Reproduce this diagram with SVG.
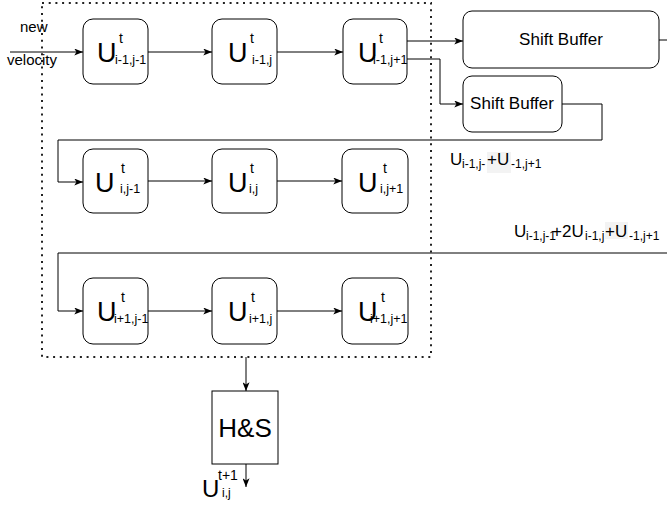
<svg xmlns="http://www.w3.org/2000/svg" width="667" height="508" viewBox="0 0 667 508">
<style>
text{font-family:"Liberation Sans",Arial,Helvetica,sans-serif;fill:#000}
.box{fill:#fff;stroke:#000;stroke-width:1}
.ln{fill:none;stroke:#000;stroke-width:1}
.arr{marker-end:url(#ah)}
.U{font-size:27px}
.t{font-size:14px}
.s{font-size:12.5px}
.lbU{font-size:17px}
.lbs{font-size:12px}
.sb{font-size:17px}
.hl{fill:#f3f3f3}
</style>
<defs>
<marker id="ah" viewBox="0 0 10 8" refX="10" refY="4" markerWidth="9" markerHeight="7" markerUnits="userSpaceOnUse" orient="auto">
<path d="M0,0 L10,4 L0,8 L2.5,4 z" fill="#000"/>
</marker>
</defs>
<rect id="region" x="42" y="3" width="389" height="354" fill="none" stroke="#222" stroke-width="2" stroke-dasharray="2 4.7"/>
<g id="connectors">
<path class="ln arr" d="M10,52 H83"/>
<path class="ln arr" d="M148,52 H212"/>
<path class="ln arr" d="M277,52 H343"/>
<path class="ln arr" d="M407,41 H463"/>
<path class="ln arr" d="M407,59 H440 V104 H463"/>
<path class="ln" d="M659,40 H667"/>
<path class="ln arr" d="M562,104 H602 V140 H58 V182 H83"/>
<path class="ln arr" d="M148,181 H212"/>
<path class="ln arr" d="M277,181 H342"/>
<path class="ln arr" d="M667,253 H58 V311 H83"/>
<path class="ln arr" d="M148,311 H212"/>
<path class="ln arr" d="M277,311 H342"/>
<path class="ln arr" d="M246,357 V391"/>
<path class="ln arr" d="M246,464 V487"/>
</g>
<g id="input-label">
<text x="20" y="32" font-size="15">new</text>
<text x="7" y="65" font-size="15">velocity</text>
</g>
<g id="u-im1-jm1">
<rect class="box" x="83" y="19" width="65" height="65" rx="10"/>
<text class="U" x="97" y="62">U</text><text class="t" x="119" y="43">t</text><text class="s" x="115" y="64">i-1,j-1</text>
</g>
<g id="u-im1-j">
<rect class="box" x="212" y="19" width="65" height="65" rx="10"/>
<text class="U" x="228" y="62">U</text><text class="t" x="250" y="43">t</text><text class="s" x="252" y="64">i-1,j</text>
</g>
<g id="u-im1-jp1">
<rect class="box" x="343" y="19" width="64" height="65" rx="10"/>
<text class="U" x="358" y="62">U</text><text class="t" x="379" y="43">t</text><text class="s" x="373" y="64">i-1,j+1</text>
</g>
<g id="shift-buffer-1">
<rect class="box" x="463" y="11" width="196" height="57" rx="9"/>
<text class="sb" x="561" y="45" text-anchor="middle">Shift Buffer</text>
</g>
<g id="shift-buffer-2">
<rect class="box" x="463" y="76" width="99" height="56" rx="9"/>
<text class="sb" x="512" y="109" text-anchor="middle">Shift Buffer</text>
</g>
<g id="u-i-jm1">
<rect class="box" x="83" y="149" width="65" height="64" rx="10"/>
<text class="U" x="95" y="192">U</text><text class="t" x="121" y="173">t</text><text class="s" x="120" y="193">i,j-1</text>
</g>
<g id="u-i-j">
<rect class="box" x="212" y="149" width="65" height="64" rx="10"/>
<text class="U" x="228" y="192">U</text><text class="t" x="250" y="173">t</text><text class="s" x="249" y="193">i,j</text>
</g>
<g id="u-i-jp1">
<rect class="box" x="342" y="149" width="66" height="64" rx="10"/>
<text class="U" x="358" y="192">U</text><text class="t" x="383" y="173">t</text><text class="s" x="380" y="193">i,j+1</text>
</g>
<g id="sum-label-1">
<text class="lbU" x="450" y="165">U</text><text class="lbs" x="462" y="168">i-1,j-</text>
<rect class="hl" x="487" y="152" width="24" height="21"/>
<text class="lbU" x="487" y="165">+U</text><text class="lbs" x="511" y="168">-1,j+1</text>
</g>
<g id="sum-label-2">
<text class="lbU" x="514" y="237">U</text><text class="lbs" x="526" y="240">i-1,j-1</text>
<text class="lbU" x="552" y="237">+2U</text><text class="lbs" x="585" y="240">i-1,j</text>
<rect class="hl" x="605" y="222" width="23" height="17"/>
<text class="lbU" x="605" y="237">+U</text><text class="lbs" x="629" y="240">-1,j+1</text>
</g>
<g id="u-ip1-jm1">
<rect class="box" x="83" y="278" width="65" height="66" rx="10"/>
<text class="U" x="97" y="321">U</text><text class="t" x="121" y="302">t</text><text class="s" x="114" y="323">i+1,j-1</text>
</g>
<g id="u-ip1-j">
<rect class="box" x="212" y="278" width="65" height="66" rx="10"/>
<text class="U" x="228" y="321">U</text><text class="t" x="251" y="302">t</text><text class="s" x="249" y="323">i+1,j</text>
</g>
<g id="u-ip1-jp1">
<rect class="box" x="342" y="278" width="66" height="66" rx="10"/>
<text class="U" x="358" y="321">U</text><text class="t" x="381" y="302">t</text><text class="s" x="370" y="323">i+1,j+1</text>
</g>
<g id="hs">
<rect class="box" x="212" y="391" width="66" height="73"/>
<text x="245" y="437" font-size="26" text-anchor="middle">H&amp;S</text>
</g>
<g id="output-label">
<text x="202" y="497" font-size="24">U</text><text x="218" y="480" font-size="14">t+1</text><text x="222" y="497" font-size="12">i,j</text>
</g>
</svg>
